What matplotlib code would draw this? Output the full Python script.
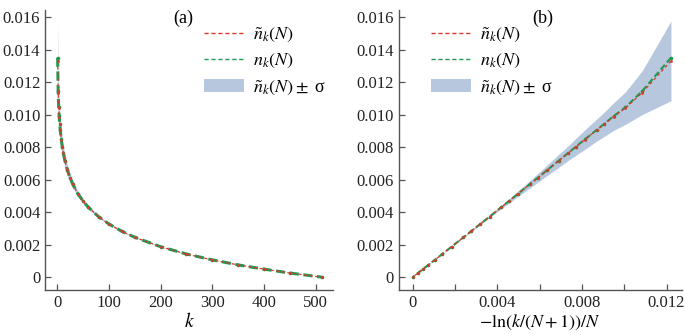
import numpy as np
import matplotlib.pyplot as plt
from matplotlib.patches import Patch
from matplotlib.lines import Line2D

plt.rcParams['font.family'] = ['Liberation Serif', 'DejaVu Serif']
plt.rcParams['mathtext.fontset'] = 'stix'

# 読み取った値
N = 511
k = np.array([1, 2, 3, 4, 5, 6, 8, 10, 12, 15, 20, 25, 30, 40, 50, 60, 80,
              100, 125, 150, 200, 250, 300, 350, 400, 450, 511])
n_exact = np.array([0.01350, 0.01145, 0.01045, 0.00990, 0.00943, 0.00906,
                    0.00847, 0.00801, 0.00763, 0.00717, 0.00657, 0.00611,
                    0.00573, 0.00514, 0.00468, 0.00431, 0.00372, 0.00327,
                    0.00282, 0.00245, 0.00187, 0.00142, 0.00106, 0.00075,
                    0.00049, 0.00025, 0.00000])
n_tilde = np.array([0.01330, 0.01135, 0.01040, 0.00987, 0.00941, 0.00905,
                    0.00846, 0.00800, 0.00762, 0.00716, 0.00656, 0.00610,
                    0.00572, 0.00514, 0.00468, 0.00431, 0.00372, 0.00327,
                    0.00282, 0.00245, 0.00187, 0.00142, 0.00106, 0.00075,
                    0.00049, 0.00025, 0.00000])
sigma = np.array([0.00245, 0.00135, 0.00100, 0.00085, 0.00075, 0.00068,
                  0.00060, 0.00052, 0.00045, 0.00040, 0.00032, 0.00027,
                  0.00023, 0.00017, 0.00013, 0.00010, 0.00007, 0.00005,
                  0.00004, 0.00003, 0.00002, 0.00001, 0.00001, 0.00001,
                  0.00000, 0.00000, 0.00000])

yticks = [0, 0.002, 0.004, 0.006, 0.008, 0.010, 0.012, 0.014, 0.016]
ytick_labels = ['0', '0.002', '0.004', '0.006', '0.008', '0.010', '0.012', '0.014', '0.016']

red = '#d93a2b'
green = '#1f9a55'
band = '#b7c8de'
spine_col = '#555555'

fig = plt.figure(figsize=(6.85, 3.35), dpi=100)
ax1 = fig.add_axes([0.066, 0.134, 0.420, 0.836])
ax2 = fig.add_axes([0.582, 0.134, 0.413, 0.836])

x_right = -np.log(k / (N + 1)) / N


def draw(ax, x, lw_g):
    ax.fill_between(x, n_tilde - sigma, n_tilde + sigma, color=band, lw=0, zorder=1)
    ax.plot(x, n_exact, color=green, ls='--', lw=lw_g, marker='o', ms=1.6,
            dashes=(3, 1.5), zorder=2)
    ax.plot(x, n_tilde, color=red, ls='--', lw=0.9, marker='o', ms=1.0,
            dashes=(2.5, 2), zorder=3)


draw(ax1, k, 2.2)
draw(ax2, x_right, 1.5)

handles = [Line2D([], [], color=red, ls='--', lw=1.0, dashes=(3, 2)),
           Line2D([], [], color=green, ls='--', lw=1.0, dashes=(3, 2)),
           Patch(color=band, lw=0)]
labels = [r'$\tilde{n}_k(N)$', r'$n_k(N)$', r'$\tilde{n}_k(N) \pm$ σ']

for ax in (ax1, ax2):
    ax.set_ylim(-0.0008, 0.01643)
    ax.set_yticks(yticks)
    ax.set_yticklabels(ytick_labels)
    for s in ('top', 'right'):
        ax.spines[s].set_visible(False)
    for s in ('left', 'bottom'):
        ax.spines[s].set_color(spine_col)
        ax.spines[s].set_linewidth(1.0)
    ax.tick_params(direction='in', length=4, width=0.9, color=spine_col,
                   labelsize=12, labelcolor='#222222')

ax1.set_xlim(-23, 533)
ax1.set_xticks([0, 100, 200, 300, 400, 500])
ax1.set_xlabel(r'$k$', fontsize=14, labelpad=1)
ax1.text(0.48, 0.97, '(a)', transform=ax1.transAxes, fontsize=13, ha='center', va='center')
ax1.legend(handles, labels, loc='upper right', bbox_to_anchor=(1.02, 0.99),
           frameon=False, fontsize=13, handlelength=2.2, handletextpad=0.5,
           labelspacing=0.45, borderpad=0.2)

ax2.set_xlim(-0.00066, 0.01271)
ax2.set_xticks([0, 0.002, 0.004, 0.006, 0.008, 0.010, 0.012])
ax2.set_xticklabels(['0', '', '0.004', '', '0.008', '', '0.012'])
ax2.set_xlabel(r'$-\mathrm{ln}(k/(N+1))/N$', fontsize=13, labelpad=1)
ax2.text(0.51, 0.97, '(b)', transform=ax2.transAxes, fontsize=13, ha='center', va='center')
ax2.legend(handles, labels, loc='upper left', bbox_to_anchor=(0.07, 0.99),
           frameon=False, fontsize=13, handlelength=2.2, handletextpad=0.5,
           labelspacing=0.45, borderpad=0.2)

fig.savefig('out.png', dpi=100)
